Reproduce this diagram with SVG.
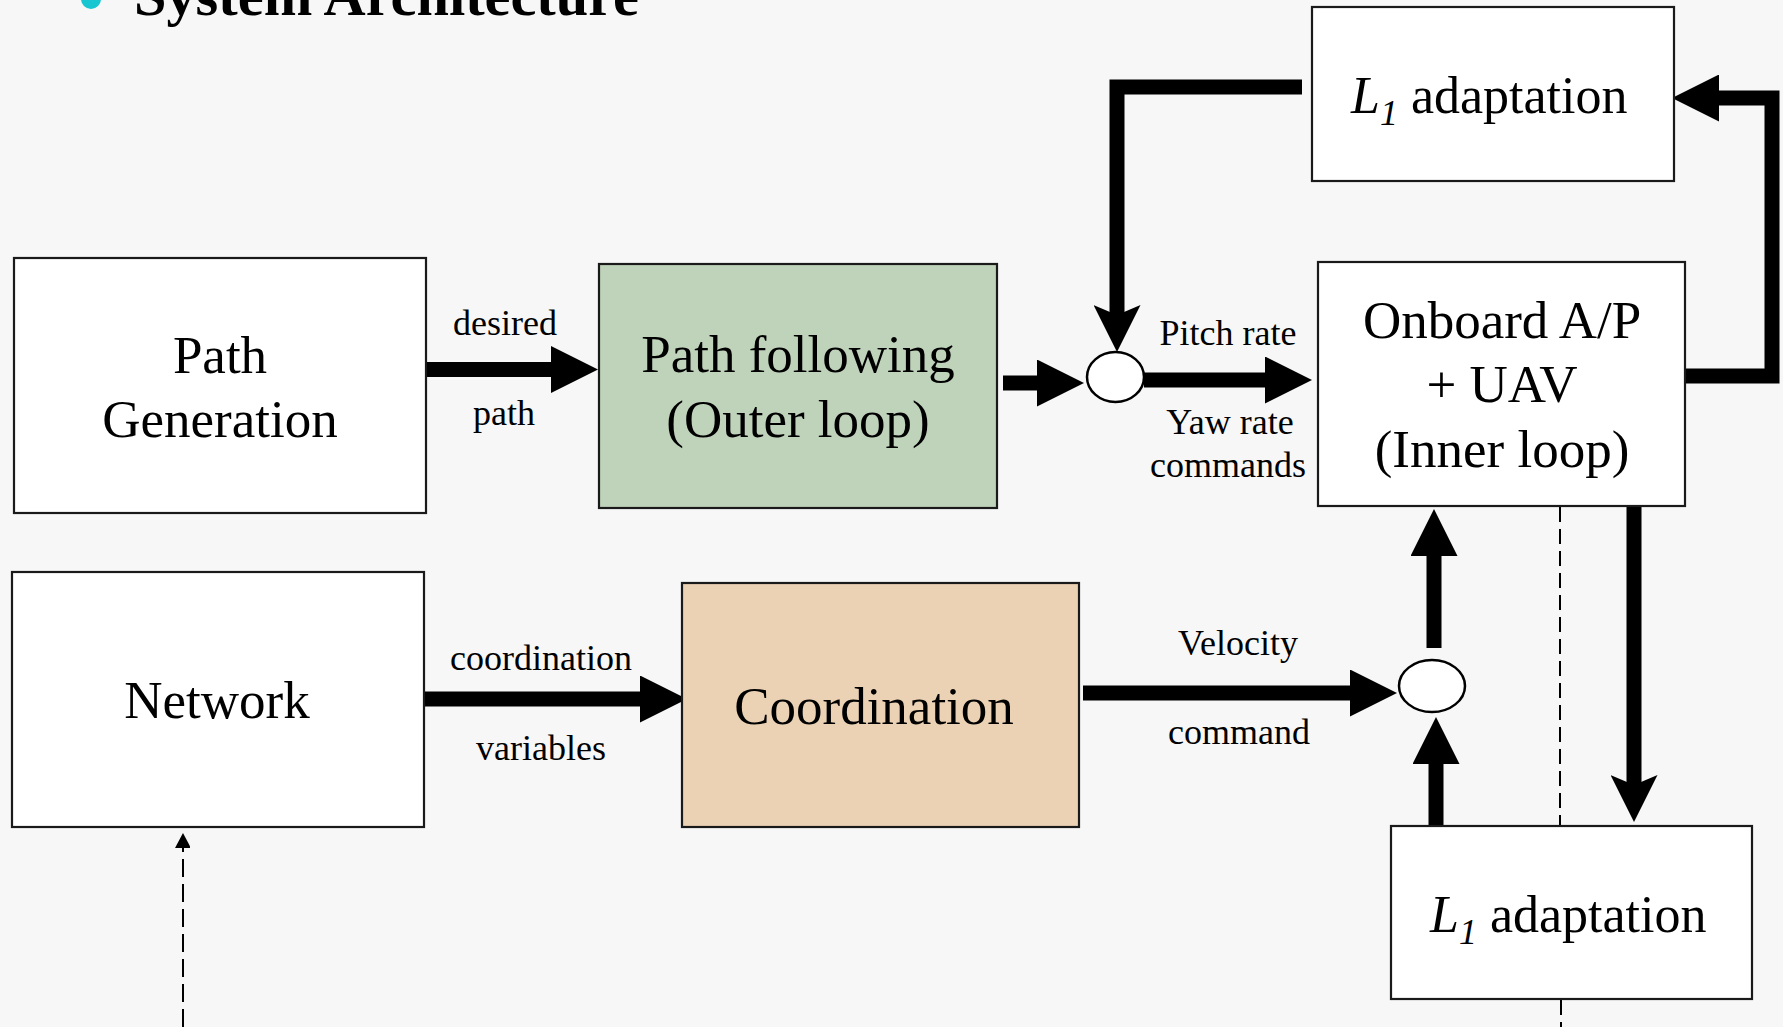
<svg xmlns="http://www.w3.org/2000/svg" width="1783" height="1027" viewBox="0 0 1783 1027">
<defs>
<style>
.box{stroke:#1a1a1a;stroke-width:2.2}
.big{font-family:"Liberation Serif","Times New Roman",serif;font-size:53px;fill:#000;text-anchor:middle}
.lbl{font-family:"Liberation Serif","Times New Roman",serif;font-size:36px;fill:#000;text-anchor:middle}
.l1{font-family:"Liberation Serif","Times New Roman",serif;font-size:52px;fill:#000}
.thick{fill:none;stroke:#000;stroke-width:15;stroke-linejoin:miter;stroke-linecap:butt}
.dash{fill:none;stroke:#000;stroke-width:2}
.sum{fill:#fff;stroke:#000;stroke-width:2.5}
</style>
<marker id="tri" viewBox="0 0 47 47" markerWidth="47" markerHeight="47" refX="0" refY="23.5" markerUnits="userSpaceOnUse" orient="auto">
<path d="M0,0 L47,23.5 L0,47 z" fill="#000"/>
</marker>
<marker id="barb" viewBox="0 0 47 47" markerWidth="47" markerHeight="47" refX="10" refY="23.5" markerUnits="userSpaceOnUse" orient="auto">
<path d="M0,0 L47,23.5 L0,47 L10,23.5 z" fill="#000"/>
</marker>
<marker id="small" viewBox="0 0 16 15" markerWidth="16" markerHeight="15" refX="0" refY="8" markerUnits="userSpaceOnUse" orient="auto">
<path d="M0,0 L15,8 L0,16 z" fill="#000"/>
</marker>
</defs>
<rect x="0" y="0" width="1783" height="1027" fill="#f7f7f7"/>
<g id="title">
<circle cx="91" cy="-1" r="10" fill="#17c6d1"/>
<text x="134" y="15" font-family="'Liberation Serif','Times New Roman',serif" font-size="58" font-weight="bold" fill="#000" textLength="505" lengthAdjust="spacingAndGlyphs">System Architecture</text>
</g>
<g id="connectors">
<line class="thick" x1="426" y1="369.5" x2="551" y2="369.5" marker-end="url(#tri)"/>
<line class="thick" x1="1003" y1="383" x2="1037" y2="383" marker-end="url(#tri)"/>
<line class="thick" x1="1144" y1="380" x2="1265" y2="380" marker-end="url(#tri)"/>
<path class="thick" d="M1302,87 H1117 V315" marker-end="url(#barb)"/>
<path class="thick" d="M1686,376 H1772 V98 H1719" marker-end="url(#tri)"/>
<line class="thick" x1="424" y1="699" x2="640" y2="699" marker-end="url(#tri)"/>
<line class="thick" x1="1083" y1="693" x2="1350" y2="693" marker-end="url(#tri)"/>
<line class="thick" x1="1434" y1="648" x2="1434" y2="556" marker-end="url(#tri)"/>
<line class="thick" x1="1436" y1="826" x2="1436" y2="764" marker-end="url(#tri)"/>
<line class="thick" x1="1634" y1="503" x2="1634" y2="785" marker-end="url(#barb)"/>
<line class="dash" x1="1560" y1="507" x2="1560" y2="826" stroke-dasharray="15 7"/>
<line class="dash" x1="1561" y1="1000" x2="1561" y2="1027" stroke-dasharray="15 7"/>
<line class="dash" x1="183" y1="1027" x2="183" y2="848" stroke-width="2.5" stroke-dasharray="18 7" marker-end="url(#small)"/>
</g>
<g id="labels">
<text class="lbl" x="505" y="335">desired</text>
<text class="lbl" x="504" y="425">path</text>
<text class="lbl" x="1228" y="345">Pitch rate</text>
<text class="lbl" x="1230" y="434">Yaw rate</text>
<text class="lbl" x="1228" y="477">commands</text>
<text class="lbl" x="541" y="670">coordination</text>
<text class="lbl" x="541" y="760">variables</text>
<text class="lbl" x="1238" y="655">Velocity</text>
<text class="lbl" x="1239" y="744">command</text>
</g>
<g id="path-generation">
<rect class="box" x="14" y="258" width="412" height="255" fill="#fff"/>
<text class="big" x="220" y="373">Path</text>
<text class="big" x="220" y="437">Generation</text>
</g>
<g id="path-following">
<rect class="box" x="599" y="264" width="398" height="244" fill="#bfd3bb"/>
<text class="big" x="798" y="372">Path following</text>
<text class="big" x="798" y="437">(Outer loop)</text>
</g>
<g id="sum-top">
<ellipse class="sum" cx="1115.5" cy="377" rx="28.5" ry="25"/>
</g>
<g id="l1-top">
<rect class="box" x="1312" y="7" width="362" height="174" fill="#fff"/>
<text class="l1" x="1351" y="113"><tspan font-style="italic">L</tspan><tspan font-style="italic" font-size="36" dy="12">1</tspan><tspan dy="-12"> adaptation</tspan></text>
</g>
<g id="onboard">
<rect class="box" x="1318" y="262" width="367" height="244" fill="#fff"/>
<text class="big" x="1502" y="338">Onboard A/P</text>
<text class="big" x="1502" y="402">+ UAV</text>
<text class="big" x="1502" y="467">(Inner loop)</text>
</g>
<g id="network">
<rect class="box" x="12" y="572" width="412" height="255" fill="#fff"/>
<text class="big" x="217" y="718">Network</text>
</g>
<g id="coordination">
<rect class="box" x="682" y="583" width="397" height="244" fill="#ebd2b4"/>
<text class="big" x="874" y="724">Coordination</text>
</g>
<g id="sum-bottom">
<ellipse class="sum" cx="1432" cy="686" rx="33" ry="26"/>
</g>
<g id="l1-bottom">
<rect class="box" x="1391" y="826" width="361" height="173" fill="#fff"/>
<text class="l1" x="1430" y="932"><tspan font-style="italic">L</tspan><tspan font-style="italic" font-size="36" dy="12">1</tspan><tspan dy="-12"> adaptation</tspan></text>
</g>
</svg>
